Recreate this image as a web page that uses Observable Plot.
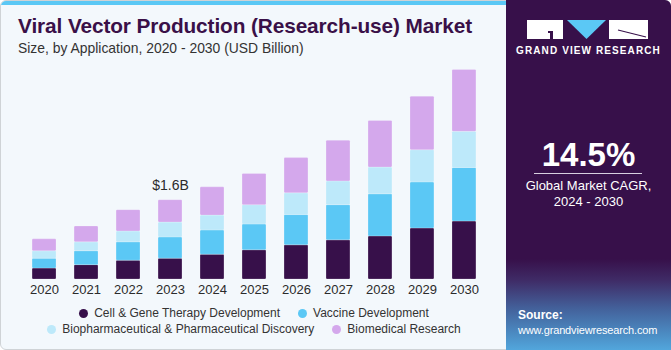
<!DOCTYPE html>
<html>
<head>
<meta charset="utf-8">
<script src="https://cdn.jsdelivr.net/npm/d3@7"></script>
<script src="https://cdn.jsdelivr.net/npm/@observablehq/plot@0.6"></script>
<style>
  html, body { margin: 0; padding: 0; background: #ffffff; font-family: "Liberation Sans", Arial, sans-serif; }
  #card {
    position: absolute; left: 0; top: 0; width: 669px; height: 348px;
    border: 1px solid #cfd3d6; border-radius: 6px; overflow: hidden;
    background: #f3f8fc;
  }
  #strip { position: absolute; left: 0; top: 0; width: 506px; height: 4px; background: #5bc8f5; }
  #title {
    position: absolute; left: 17px; top: 13px; font-size: 20.8px; font-weight: 900;
    color: #3a1048; letter-spacing: -0.1px; white-space: nowrap;
  }
  #subtitle {
    position: absolute; left: 17px; top: 39px; font-size: 13.9px; color: #333;
    white-space: nowrap;
  }
  #chart { position: absolute; left: 0; top: 60px; }
  #legend { position: absolute; left: 0; top: 305px; width: 506px; font-size: 12px; color: #333; }
  .row { position: absolute; left: 0; width: 506px; text-align: center; white-space: nowrap; }
  .item { display: inline-block; margin: 0 9px; }
  .dot { display: inline-block; width: 9px; height: 9px; border-radius: 50%; margin-right: 6px; vertical-align: -0.5px; }
  #panel {
    position: absolute; left: 506px; top: 0; width: 165px; height: 350px;
    background: linear-gradient(to bottom, #37104a 0%, #37104a 74%, #3f2b66 80%, #43609a 88%, #4c8fc6 96%, #52a6dc 100%);
    color: #fff; border-top-right-radius: 6px; overflow: hidden;
  }
  #gvr { position: absolute; left: 0; top: 45px; width: 165px; text-align: center; font-size: 10px; font-weight: bold; letter-spacing: 1.1px; }
  #cagr { position: absolute; left: 0; top: 136px; width: 165px; text-align: center; font-size: 33px; font-weight: bold; }
  #rule { position: absolute; left: 28px; top: 173px; width: 108px; height: 1px; background: #d8cfe0; }
  #cagrtxt { position: absolute; left: 0; top: 178px; width: 165px; text-align: center; font-size: 13px; line-height: 16px; }
  #src { position: absolute; left: 12px; top: 308px; font-size: 11px; line-height: 15px; letter-spacing: -0.15px; white-space: nowrap; }
  #src b { font-size: 12px; letter-spacing: 0; }
</style>
</head>
<body>
<div id="card">
  <div id="strip"></div>
  <div id="title">Viral Vector Production (Research-use) Market</div>
  <div id="subtitle">Size, by Application, 2020 - 2030 (USD Billion)</div>
  <div id="chart"></div>
  <div id="legend"></div>
</div>
<div id="panel">
  <svg width="165" height="45" style="position:absolute;left:0;top:0">
    <path d="M21 20 H57 V39 H21 Z" fill="#fff"/>
    <path d="M42 31 H47 V39 H44 V33 H42 Z" fill="#37104a"/>
    <path d="M61 20 H100 L80.5 39 Z" fill="#5bc8f5"/>
    <path d="M103 20 H142 V39 H103 Z" fill="#fff"/>
    <path d="M112 30 L140 37" stroke="#37104a" stroke-width="1.2"/>
  </svg>
  <div id="gvr">GRAND VIEW RESEARCH</div>
  <div id="cagr">14.5%</div>
  <div id="rule"></div>
  <div id="cagrtxt">Global Market CAGR,<br>2024 - 2030</div>
  <div id="src"><b>Source:</b><br>www.grandviewresearch.com</div>
</div>
<script>
const years = [2020, 2021, 2022, 2023, 2024, 2025, 2026, 2027, 2028, 2029, 2030];
const seriesNames = [
  "Cell & Gene Therapy Development",
  "Vaccine Development",
  "Biopharmaceutical & Pharmaceutical Discovery",
  "Biomedical Research"
];
const seriesColors = ["#37104a", "#5bc8f5", "#bde9fa", "#d4a8ec"];
const cellGene   = [0.22, 0.29, 0.38, 0.42, 0.50, 0.59, 0.69, 0.79, 0.87, 1.03, 1.17];
const vaccine    = [0.20, 0.28, 0.37, 0.43, 0.49, 0.52, 0.61, 0.71, 0.85, 0.93, 1.08];
const biopharma  = [0.15, 0.18, 0.22, 0.30, 0.30, 0.39, 0.44, 0.48, 0.54, 0.65, 0.73];
const biomedical = [0.24, 0.32, 0.43, 0.45, 0.57, 0.63, 0.71, 0.82, 0.94, 1.08, 1.25];
const annotatedYear = 2023;
const annotationText = "$1.6B";

const seriesValues = [cellGene, vaccine, biopharma, biomedical];
const rows = [];
seriesNames.forEach((s, i) => years.forEach((y, j) => rows.push({year: String(y), series: s, value: seriesValues[i][j]})));
const ai = years.indexOf(annotatedYear);
const annot = [{year: String(annotatedYear), total: d3.sum(seriesValues, v => v[ai]), label: annotationText}];

const chart = Plot.plot({
  width: 505,
  height: 240,
  marginLeft: 13,
  marginRight: 12,
  marginTop: 0,
  marginBottom: 22,
  style: {background: "transparent", fontFamily: "Liberation Sans, Arial, sans-serif", fontSize: "13px", color: "#2b2b2b"},
  x: {domain: years.map(String), padding: 0.43, round: false, label: null},
  y: {domain: [0, 4.4], axis: null},
  color: {domain: seriesNames, range: seriesColors},
  marks: [
    Plot.barY(rows, {x: "year", y: "value", fill: "series", order: seriesNames, stroke: "#ffffff", strokeOpacity: 0.35, strokeWidth: 0.6, rx: 1}),
    Plot.text(annot, {x: "year", y: "total", text: "label", dy: -15, fontSize: 14, fill: "#2b2b2b"}),
    Plot.axisX({tickSize: 0, tickPadding: 5, fontSize: 13, fill: "#2b2b2b", label: null})
  ]
});
document.getElementById("chart").appendChild(chart);

const legend = document.getElementById("legend");
const rowsDef = [[0, 1], [2, 3]];
rowsDef.forEach((idxs, r) => {
  const row = document.createElement("div");
  row.className = "row";
  row.style.top = (r * 16) + "px";
  idxs.forEach(i => {
    const it = document.createElement("span");
    it.className = "item";
    it.innerHTML = `<span class="dot" style="background:${seriesColors[i]}"></span>${seriesNames[i].replace(/&/g, "&amp;")}`;
    row.appendChild(it);
  });
  legend.appendChild(row);
});
</script>
</body>
</html>
